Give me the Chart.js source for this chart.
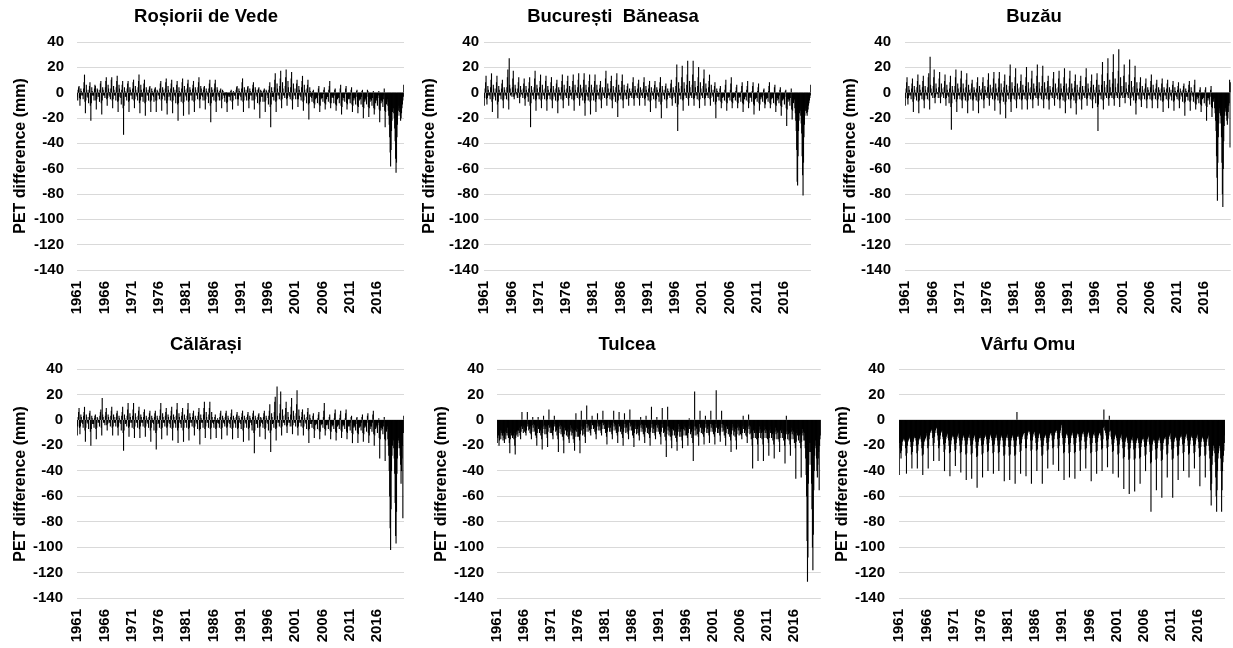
<!DOCTYPE html>
<html><head><meta charset="utf-8">
<script src="https://cdn.jsdelivr.net/npm/chart.js@4"></script>
<style>
html,body{margin:0;padding:0;background:#fff;}
body{width:1233px;height:648px;overflow:hidden;position:relative;}
canvas{position:absolute;}
</style></head><body>
<script>
// ---- DATA (monthly PET difference, mm, Jan 1961 – Dec 2020) ----
const firstYear = 1961, lastYear = 2020;
const xTickLabels = ['1961','1966','1971','1976','1981','1986','1991','1996','2001','2006','2011','2016'];
const yMin = -140, yMax = 40, yStep = 20;
const stationNames = ['Roșiorii de Vede','București  Băneasa','Buzău','Călărași','Tulcea','Vârfu Omu'];

const rosioriiDeVede = [
[-3,-6,2,4,5,-4,-10,-5,3,1,-2,-1],[-2,-5,3,8,14,-7,-16,-6,6,2,-3,-1],[-4,-8,2,5,8,-10,-22,-8,4,1,-2,-2],
[-2,-6,3,6,5,-6,-13,-5,3,2,-3,-1],[-3,-7,2,7,9,-8,-17,-6,4,2,-2,-1],[-2,-4,4,9,12,-5,-10,-4,6,3,-2,0],
[-3,-5,3,10,12,-6,-12,-5,5,2,-2,-1],[-2,-6,4,9,13,-7,-15,-6,6,3,-3,-1],[-4,-9,2,6,9,-12,-33,-10,4,1,-3,-2],
[-3,-6,3,7,9,-7,-15,-6,4,2,-2,-1],[-2,-5,3,8,10,-6,-12,-5,5,2,-2,-1],[-3,-6,4,9,14,-8,-16,-6,6,2,-3,-1],
[-3,-7,3,7,10,-8,-18,-7,4,2,-2,-1],[-2,-6,2,4,5,-7,-15,-6,3,1,-2,-1],[-3,-7,2,3,4,-6,-15,-6,2,1,-2,-1],
[-2,-5,3,7,9,-6,-14,-5,4,2,-2,-1],[-3,-6,3,8,11,-8,-17,-6,5,2,-3,-1],[-2,-6,3,7,10,-7,-16,-6,4,2,-2,-1],
[-3,-8,2,6,9,-9,-22,-8,4,1,-3,-2],[-2,-7,3,8,11,-8,-18,-7,5,2,-2,-1],[-3,-6,3,7,10,-7,-17,-6,4,2,-2,-1],
[-2,-6,3,6,9,-7,-15,-6,4,2,-2,-1],[-2,-5,4,8,12,-6,-12,-5,5,3,-2,-1],[-3,-6,2,4,5,-6,-13,-5,3,1,-2,-1],
[-3,-8,3,7,10,-10,-23,-8,4,2,-3,-2],[-2,-6,3,7,10,-7,-15,-6,4,2,-2,-1],[-3,-6,1,2,3,-6,-12,-5,2,1,-2,-1],
[-4,-7,-1,-2,0,-8,-15,-7,-1,-2,-3,-2],[-3,-6,1,2,-2,-7,-13,-6,1,-1,-2,-2],[-2,-5,2,4,5,-5,-10,-5,3,1,-2,-1],
[-3,-6,3,8,11,-7,-15,-6,4,2,-2,-1],[-3,-6,2,4,5,-6,-12,-5,3,1,-2,-1],[-2,-6,3,6,8,-6,-13,-5,4,2,-2,-1],
[-3,-8,2,3,4,-9,-20,-7,2,1,-3,-2],[-3,-7,1,2,3,-7,-15,-6,2,1,-2,-1],[-4,-9,2,5,8,-11,-27,-9,4,1,-3,-2],
[-3,-6,4,10,15,-7,-15,-6,7,3,-2,-1],[-2,-5,5,11,17,-6,-12,-5,8,3,-2,-1],[-2,-4,5,12,18,-5,-10,-4,9,4,-2,0],
[-3,-5,4,11,16,-6,-13,-5,7,3,-2,-1],[-2,-5,3,7,10,-5,-11,-5,5,2,-2,-1],[-3,-6,4,9,13,-7,-14,-6,6,2,-2,-1],
[-3,-8,3,6,10,-9,-21,-8,4,1,-3,-2],[-4,-7,-2,1,2,-8,-12,-9,-3,-5,-4,-3],[-4,-8,-2,3,5,-9,-15,-10,-3,-5,-4,-3],
[-4,-7,-1,2,4,-8,-13,-9,-2,-5,-3,-3],[-3,-7,2,5,9,-8,-12,-8,-2,-4,-3,-2],[-4,-8,-2,2,3,-9,-14,-10,-3,-5,-4,-3],
[-4,-8,-1,3,6,-10,-17,-11,-3,-6,-4,-3],[-4,-7,-1,3,5,-8,-13,-9,-3,-5,-4,-3],[-5,-8,-2,2,4,-9,-15,-10,-4,-6,-4,-3],
[-5,-9,-3,1,2,-10,-16,-11,-4,-6,-5,-4],[-5,-9,-3,1,2,-11,-20,-12,-5,-7,-5,-4],[-6,-9,-3,2,1,-11,-19,-12,-5,-7,-5,-4],
[-6,-10,-4,-1,1,-12,-17,-13,-5,-8,-6,-4],[-6,-10,-4,-2,1,-13,-23,-14,-6,-8,-6,-5],[-7,-11,-5,-2,3,-14,-27,-15,-7,-9,-7,-5],
[-10,-14,-18,-25,-35,-47,-58,-45,-30,-22,-15,-12],[-12,-16,-20,-28,-38,-52,-63,-55,-35,-25,-18,-14],[-10,-12,-15,-18,-22,-20,-16,-12,-9,-6,-3,6]
].flat();

const bucurestiBaneasa = [
[-10,-4,3,8,13,-5,-9,-4,5,2,-2,-1],[-2,-5,4,10,15,-7,-15,-5,6,3,-2,-1],[-3,-6,3,8,13,-9,-20,-7,5,2,-2,-1],
[-2,-5,3,7,10,-6,-12,-5,4,2,-2,-1],[-2,-5,4,12,18,-6,-13,27,6,3,-2,-1],[-1,-3,4,11,17,-3,-5,-2,6,3,-1,0],
[-2,-4,3,8,12,-4,-8,-3,5,2,-1,-1],[-2,-4,3,7,11,-5,-10,-4,5,2,-2,-1],[-3,-7,3,8,12,-10,-27,-8,5,2,-2,-1],
[-2,-5,4,11,17,-6,-14,-5,6,3,-2,-1],[-2,-5,4,9,14,-6,-12,-5,6,2,-2,-1],[-2,-5,3,9,13,-6,-14,-5,5,2,-2,-1],
[-2,-5,3,8,12,-6,-12,-5,5,2,-2,-1],[-3,-6,3,7,10,-7,-16,-6,4,2,-2,-1],[-2,-5,4,9,14,-6,-12,-5,6,2,-2,-1],
[-2,-4,3,9,13,-5,-10,-4,5,2,-2,-1],[-2,-5,4,9,14,-6,-14,-5,6,2,-2,-1],[-2,-4,4,10,15,-5,-10,-4,6,3,-2,-1],
[-3,-6,4,10,15,-8,-18,-6,6,2,-2,-1],[-3,-6,4,9,14,-7,-17,-6,6,2,-2,-1],[-2,-6,4,9,14,-7,-15,-5,6,2,-2,-1],
[-2,-5,3,6,9,-6,-12,-5,4,2,-2,-1],[-2,-4,4,11,17,-5,-10,-4,7,3,-2,-1],[-2,-5,3,9,13,-6,-12,-5,5,2,-2,-1],
[-3,-7,4,10,15,-8,-19,-6,6,2,-2,-1],[-2,-5,4,9,14,-6,-12,-5,6,2,-2,-1],[-2,-5,2,5,7,-5,-10,-4,3,1,-2,-1],
[-2,-4,3,8,12,-5,-10,-4,5,2,-2,-1],[-2,-4,3,7,10,-5,-10,-4,4,2,-2,-1],[-2,-4,3,8,12,-5,-10,-4,5,2,-2,-1],
[-3,-6,3,6,9,-7,-15,-6,4,1,-2,-1],[-2,-5,3,6,9,-6,-12,-5,4,2,-2,-1],[-3,-7,3,8,12,-9,-20,-7,5,2,-2,-1],
[-2,-5,2,5,7,-6,-12,-5,3,1,-2,-1],[-2,-4,3,7,10,-5,-10,-4,4,2,-2,-1],[-3,-8,5,12,22,-11,-30,-9,8,3,-2,-1],
[-2,-5,5,12,21,-6,-14,-5,8,3,-2,-1],[-2,-4,6,14,25,-5,-10,-4,9,4,-2,0],[-2,-4,6,14,25,-5,-10,-4,9,4,-2,0],
[-2,-5,5,12,20,-6,-12,-5,8,3,-2,-1],[-2,-4,5,11,18,-5,-10,-4,7,3,-2,-1],[-2,-4,4,9,14,-5,-10,-4,6,2,-2,-1],
[-3,-7,2,5,8,-9,-20,-7,3,1,-3,-2],[-3,-6,-1,3,5,-7,-12,-8,-2,-4,-3,-2],[-3,-6,2,6,10,-7,-14,-8,-2,-4,-3,-2],
[-3,-6,2,7,12,-7,-12,-8,-1,-4,-3,-2],[-3,-6,1,4,6,-7,-12,-8,-2,-4,-3,-2],[-3,-7,1,5,8,-8,-15,-9,-2,-5,-3,-2],
[-3,-6,2,5,9,-7,-12,-8,-2,-4,-3,-2],[-4,-7,1,5,8,-9,-17,-10,-3,-5,-4,-3],[-4,-7,1,4,7,-8,-14,-9,-3,-5,-3,-3],
[-4,-7,-2,2,3,-8,-12,-9,-3,-5,-4,-3],[-4,-7,1,5,8,-8,-12,-9,-3,-5,-4,-3],[-4,-8,-1,4,6,-9,-15,-10,-4,-6,-4,-3],
[-5,-8,-2,2,4,-10,-18,-11,-4,-6,-5,-4],[-5,-9,-3,1,2,-12,-26,-13,-5,-7,-5,-4],[-6,-10,-4,-1,3,-13,-21,-14,-6,-8,-6,-5],
[-12,-16,-22,-30,-45,-70,-73,-50,-30,-22,-16,-12],[-14,-18,-24,-32,-50,-65,-81,-55,-35,-25,-18,-14],[-12,-14,-16,-18,-15,-13,-10,-8,-6,-4,-2,6]
].flat();

const buzau = [
[-10,-4,3,8,12,-5,-9,-4,5,2,-2,-1],[-2,-5,3,7,11,-7,-15,-5,5,2,-2,-1],[-3,-6,4,9,14,-7,-16,-6,6,2,-2,-1],
[-2,-5,4,9,13,-6,-12,-5,5,2,-2,-1],[-2,-5,4,12,15,-6,-13,28,6,3,-2,-1],[-1,-4,5,12,18,-4,-8,-3,7,3,-1,0],
[-1,-4,4,11,16,-4,-8,-3,7,3,-1,0],[-2,-4,4,9,14,-5,-10,-4,6,2,-2,-1],[-3,-8,3,8,13,-11,-29,-8,5,2,-2,-1],
[-2,-5,5,12,18,-7,-15,-5,7,3,-2,-1],[-2,-5,4,11,17,-6,-12,-5,7,3,-2,-1],[-3,-6,4,10,15,-7,-16,-6,6,2,-2,-1],
[-2,-5,3,7,10,-6,-14,-5,4,2,-2,-1],[-3,-6,3,8,12,-7,-16,-6,5,2,-2,-1],[-2,-5,3,8,12,-6,-12,-5,5,2,-2,-1],
[-2,-4,4,10,15,-5,-10,-4,6,3,-2,-1],[-2,-5,4,11,16,-6,-14,-5,7,3,-2,-1],[-3,-6,4,11,16,-8,-17,-6,7,2,-2,-1],
[-3,-7,4,9,14,-9,-20,-7,6,2,-2,-1],[-2,-5,5,13,22,-7,-15,-5,8,3,-2,-1],[-2,-5,5,12,19,-6,-12,-5,7,3,-2,-1],
[-2,-5,4,9,14,-6,-13,-5,6,2,-2,-1],[-2,-5,5,12,20,-6,-13,-5,8,3,-2,-1],[-2,-5,4,11,17,-6,-12,-5,7,3,-2,-1],
[-2,-4,5,13,22,-5,-10,-4,8,3,-2,-1],[-2,-5,5,13,21,-6,-12,-5,8,3,-2,-1],[-2,-5,4,9,13,-6,-13,-5,5,2,-2,-1],
[-2,-4,4,11,16,-5,-10,-4,7,3,-2,-1],[-2,-5,4,11,17,-6,-12,-5,7,3,-2,-1],[-3,-6,5,12,19,-7,-16,-6,7,3,-2,-1],
[-2,-5,4,11,17,-6,-12,-5,7,3,-2,-1],[-3,-6,4,9,14,-8,-17,-6,6,2,-2,-1],[-2,-5,4,9,13,-6,-13,-5,5,2,-2,-1],
[-2,-4,5,12,19,-5,-10,-4,7,3,-2,-1],[-2,-5,4,9,14,-6,-12,-5,6,2,-2,-1],[-3,-8,4,10,15,-11,-30,-9,6,2,-2,-1],
[-2,-5,6,14,24,-6,-13,-5,9,4,-2,-1],[-2,-4,6,15,27,-5,-10,-4,10,4,-2,0],[-2,-4,7,16,30,-5,-10,-4,11,4,-2,0],
[-2,-4,7,17,34,-5,-11,-4,12,5,-2,0],[-1,-4,5,13,22,-4,-8,-3,8,3,-1,0],[-2,-4,6,14,26,-5,-10,-4,9,4,-2,0],
[-3,-6,5,12,21,-8,-17,-6,8,3,-2,-1],[-2,-5,3,8,12,-6,-11,-5,5,2,-2,-1],[-2,-5,3,7,11,-6,-12,-5,4,2,-2,-1],
[-2,-5,4,9,14,-6,-12,-5,6,2,-2,-1],[-2,-5,3,7,10,-6,-12,-5,4,2,-2,-1],[-3,-6,3,7,11,-7,-15,-6,4,2,-2,-1],
[-2,-5,3,7,10,-6,-12,-5,4,2,-2,-1],[-3,-6,2,6,9,-7,-14,-6,4,1,-2,-1],[-3,-5,2,5,8,-6,-12,-5,3,1,-2,-1],
[-3,-7,2,5,7,-8,-18,-7,3,1,-3,-2],[-3,-6,2,6,9,-7,-14,-6,4,1,-2,-1],[-3,-7,-2,6,10,-8,-13,-9,-3,-5,-3,-2],
[-4,-8,-2,2,4,-9,-15,-10,-3,-5,-4,-3],[-4,-8,-2,2,4,-10,-22,-11,-4,-6,-4,-3],[-5,-9,-3,2,5,-11,-19,-12,-5,-7,-5,-4],
[-12,-16,-22,-30,-50,-67,-85,-55,-35,-24,-16,-12],[-14,-18,-24,-35,-55,-80,-90,-60,-38,-26,-18,-14],[-12,-15,-18,-22,-25,-20,-15,-10,-8,10,-43,8]
].flat();

const calarasi = [
[-12,-5,2,6,9,-6,-11,-5,4,2,-2,-1],[-3,-6,3,6,10,-8,-17,-6,4,2,-2,-1],[-3,-7,2,5,7,-9,-20,-7,3,1,-3,-2],
[-3,-6,1,3,4,-7,-15,-6,2,1,-2,-1],[-2,-5,3,6,8,-6,-12,17,4,2,-2,-1],[-2,-4,3,6,9,-4,-8,-3,4,2,-2,-1],
[-2,-5,3,7,10,-6,-12,-5,4,2,-2,-1],[-2,-5,2,5,7,-6,-12,-5,3,1,-2,-1],[-3,-8,3,6,10,-10,-24,-8,4,1,-3,-2],
[-2,-5,3,8,13,-6,-13,-5,5,2,-2,-1],[-2,-6,3,8,13,-7,-14,-5,5,2,-2,-1],[-2,-6,3,7,10,-7,-14,-5,4,2,-2,-1],
[-2,-5,2,6,8,-6,-13,-5,3,1,-2,-1],[-3,-6,2,5,7,-8,-17,-6,3,1,-2,-1],[-3,-8,2,5,7,-10,-23,-8,3,1,-3,-2],
[-2,-6,3,8,13,-7,-15,-6,5,2,-2,-1],[-2,-5,3,6,9,-6,-12,-5,4,2,-2,-1],[-3,-6,3,7,10,-7,-16,-6,4,2,-2,-1],
[-3,-6,3,8,13,-8,-18,-6,5,2,-2,-1],[-3,-6,3,6,9,-8,-17,-6,4,1,-2,-1],[-2,-6,3,8,13,-7,-16,-6,5,2,-2,-1],
[-2,-5,2,5,7,-6,-12,-5,3,1,-2,-1],[-3,-7,3,6,9,-8,-19,-7,4,1,-2,-1],[-2,-6,4,9,14,-7,-14,-5,6,2,-2,-1],
[-2,-6,4,9,14,-7,-15,-6,6,2,-2,-1],[-3,-6,-1,2,4,-7,-14,-6,-2,1,-2,-2],[-3,-6,2,5,7,-7,-15,-6,3,1,-2,-1],
[-3,-5,2,5,7,-6,-12,-5,3,1,-2,-1],[-3,-6,2,5,8,-7,-15,-6,3,1,-2,-1],[-3,-6,2,4,6,-7,-14,-6,3,1,-2,-1],
[-3,-7,2,5,7,-8,-17,-6,3,1,-2,-1],[-3,-6,2,4,6,-7,-16,-6,3,1,-2,-1],[-4,-8,2,5,7,-10,-26,-8,3,1,-3,-2],
[-3,-6,2,4,5,-6,-13,-5,2,1,-2,-1],[-3,-6,2,5,7,-7,-15,-6,3,1,-2,-1],[-3,-8,3,7,12,-10,-25,-8,5,2,-3,-2],
[-2,-6,6,14,18,-7,-16,-6,26,3,-2,-1],[-2,-5,5,12,22,-6,-12,-5,8,3,-2,-1],[-2,-4,4,9,14,-5,-10,-4,6,2,-2,-1],
[-2,-5,4,10,17,-5,-11,-4,7,3,-2,-1],[-2,-5,5,12,23,-6,-12,-5,8,3,-2,-1],[-2,-5,2,6,8,-6,-12,-5,4,1,-2,-1],
[-3,-7,2,6,9,-8,-18,-7,4,1,-3,-2],[-3,-6,-1,3,5,-7,-14,-8,-2,-4,-3,-2],[-3,-7,1,4,6,-8,-15,-9,-2,-4,-3,-2],
[-3,-6,2,7,13,-7,-12,-8,-1,-4,-3,-2],[-4,-7,-1,2,4,-8,-15,-9,-3,-5,-4,-3],[-4,-7,1,5,8,-9,-16,-10,-3,-5,-4,-3],
[-4,-7,1,4,7,-8,-14,-9,-3,-5,-4,-3],[-4,-7,1,5,8,-9,-15,-10,-3,-5,-4,-3],[-5,-8,-2,2,3,-10,-18,-11,-4,-6,-5,-4],
[-5,-8,-3,1,2,-10,-18,-11,-4,-6,-5,-4],[-5,-8,-2,2,4,-10,-17,-11,-4,-6,-5,-4],[-5,-9,-2,3,5,-10,-18,-12,-4,-7,-5,-4],
[-5,-9,-2,4,7,-11,-20,-12,-5,-7,-5,-4],[-6,-10,-4,-2,1,-14,-30,-15,-6,-8,-6,-5],[-7,-11,-5,-2,2,-15,-32,-16,-7,-9,-7,-5],
[-15,-20,-28,-40,-60,-85,-102,-70,-40,-28,-20,-15],[-16,-22,-30,-42,-65,-91,-97,-72,-42,-30,-22,-16],[-14,-18,-22,-28,-35,-50,-40,-30,-20,-77,-10,3]
].flat();

const tulcea = [
[-18,-14,-10,-12,-20,-16,-12,-8,-15,-10,-8,-12],[-12,-16,-10,-14,-18,-12,-9,-15,-8,-10,-12,-6],[-10,-14,-12,-18,-26,-15,-10,-8,-12,-9,-14,-7],
[-12,-15,-10,-20,-27,-14,-12,-9,-11,-8,-13,-8],[-8,-10,-6,-12,-15,-9,-5,6,-7,-4,-10,-5],[-6,-9,-4,-10,-12,-8,-3,6,-5,-3,-8,-4],
[-7,-10,-5,-11,-15,-9,-4,2,-6,-3,-9,-4],[-8,-12,-6,-14,-20,-10,-5,2,-7,-4,-10,-5],[-8,-12,-6,-15,-23,-10,-5,3,-7,-4,-11,-5],
[-7,-11,-5,-14,-21,-9,-4,8,-6,-3,-10,-5],[-6,-10,-4,-12,-15,-8,-3,3,-5,-3,-9,-4],[-8,-12,-6,-15,-25,-10,-5,-2,-7,-4,-11,-5],
[-9,-13,-7,-16,-26,-11,-6,-2,-8,-5,-12,-6],[-9,-13,-7,-15,-18,-12,-8,-4,-9,-6,-12,-7],[-10,-15,-8,-18,-24,-13,-8,5,-9,-6,-13,-7],
[-9,-13,-7,-16,-26,-11,-5,7,-8,-5,-12,-6],[-7,-11,-5,-13,-18,-9,-3,11,-6,-3,-9,-4],[-5,-8,-3,-10,-12,-7,-2,3,-4,-2,-7,-3],
[-6,-9,-4,-11,-15,-8,-2,5,-5,-3,-8,-4],[-5,-8,-3,-10,-12,-7,-2,7,-4,-2,-7,-3],[-7,-10,-5,-13,-19,-9,-4,-1,-6,-3,-9,-4],
[-6,-9,-4,-11,-15,-8,-2,7,-5,-3,-8,-4],[-7,-10,-5,-12,-18,-9,-3,6,-5,-3,-9,-4],[-7,-11,-5,-14,-20,-9,-3,5,-6,-3,-10,-5],
[-6,-9,-4,-11,-15,-8,-2,8,-5,-3,-8,-4],[-8,-12,-6,-14,-21,-10,-5,-1,-7,-4,-11,-5],[-7,-10,-5,-12,-16,-9,-4,2,-6,-3,-9,-4],
[-7,-11,-5,-13,-18,-9,-4,3,-6,-3,-10,-5],[-7,-11,-5,-14,-20,-9,-3,10,-6,-3,-10,-5],[-7,-10,-5,-12,-15,-9,-4,2,-6,-3,-9,-4],
[-7,-11,-5,-13,-19,-9,-3,9,-6,-3,-10,-5],[-9,-13,-7,-16,-29,-11,-5,10,-8,-5,-12,-6],[-9,-13,-7,-16,-22,-12,-7,-3,-8,-5,-12,-6],
[-9,-14,-8,-17,-24,-12,-7,-3,-9,-5,-13,-7],[-9,-13,-7,-16,-22,-12,-7,-3,-8,-5,-12,-6],[-8,-12,-6,-14,-20,-10,-5,1,-7,-4,-11,-5],
[-9,-14,-7,-18,-32,-12,-5,22,-8,-5,-12,-6],[-7,-11,-5,-13,-20,-9,-3,7,-6,-3,-10,-5],[-7,-11,-5,-13,-19,-9,-3,3,-6,-3,-10,-5],
[-7,-10,-5,-12,-18,-9,-3,7,-6,-3,-9,-4],[-7,-11,-5,-13,-19,-9,-3,23,-6,-3,-10,-5],[-7,-10,-5,-12,-17,-9,-3,7,-6,-3,-9,-4],
[-8,-12,-6,-14,-20,-10,-5,-2,-7,-4,-11,-5],[-9,-13,-7,-16,-25,-11,-6,-3,-8,-5,-12,-6],[-9,-13,-7,-16,-23,-11,-6,-3,-8,-5,-12,-6],
[-8,-11,-6,-12,-15,-10,-5,3,-7,-4,-10,-5],[-8,-12,-6,-13,-18,-10,-5,4,-7,-4,-11,-5],[-10,-15,-9,-20,-38,-14,-8,-5,-10,-7,-14,-8],
[-10,-15,-9,-19,-32,-14,-8,-5,-10,-7,-14,-8],[-10,-15,-9,-19,-32,-14,-8,-5,-10,-7,-14,-8],[-10,-15,-9,-18,-28,-14,-8,-5,-10,-7,-14,-8],
[-11,-16,-10,-19,-30,-15,-9,-6,-11,-8,-15,-9],[-10,-15,-9,-17,-25,-14,-8,-5,-10,-7,-14,-8],[-11,-16,-10,-20,-34,-15,-9,3,-11,-8,-15,-9],
[-11,-16,-10,-19,-28,-15,-9,-6,-11,-8,-15,-9],[-12,-18,-11,-22,-46,-17,-10,-7,-12,-9,-16,-10],[-12,-18,-11,-22,-45,-17,-10,-7,-12,-9,-16,-10],
[-16,-22,-30,-43,-60,-95,-127,-108,-50,-35,-25,-18],[-18,-25,-35,-50,-70,-100,-118,-90,-55,-40,-28,-20],[-16,-22,-30,-40,-45,-35,-30,-25,-55,-20,-15,-12]
].flat();

const varfuOmu = [
[-43,-18,-22,-26,-30,-24,-20,-17,-16,-15,-14,-16],[-15,-17,-22,-28,-42,-26,-20,-17,-16,-15,-14,-13],[-15,-17,-21,-27,-38,-25,-20,-17,-15,-14,-13,-12],
[-14,-16,-20,-26,-38,-24,-19,-16,-15,-14,-13,-12],[-15,-17,-22,-28,-43,-27,-20,-17,-16,-15,-14,-13],[-10,-12,-16,-22,-38,-20,-15,-12,-10,-9,-8,-7],
[-8,-10,-14,-20,-32,-18,-13,-10,-8,-7,-6,-6],[-10,-12,-16,-22,-32,-20,-15,-12,-10,-9,-8,-8],[-13,-15,-19,-25,-40,-23,-18,-15,-13,-12,-11,-10],
[-14,-16,-20,-26,-44,-25,-19,-16,-14,-13,-12,-11],[-13,-15,-19,-24,-36,-23,-18,-15,-13,-12,-11,-10],[-14,-16,-20,-26,-41,-25,-19,-16,-14,-13,-12,-11],
[-14,-16,-20,-27,-47,-26,-19,-16,-14,-13,-12,-11],[-14,-16,-20,-27,-46,-26,-19,-16,-14,-13,-12,-11],[-15,-17,-22,-29,-53,-28,-20,-17,-15,-14,-13,-12],
[-14,-16,-20,-27,-45,-26,-19,-16,-14,-13,-12,-11],[-13,-15,-19,-25,-40,-24,-18,-15,-13,-12,-11,-10],[-14,-16,-20,-26,-42,-25,-19,-16,-14,-13,-12,-11],
[-14,-16,-20,-26,-40,-25,-19,-16,-14,-13,-12,-11],[-14,-16,-21,-28,-48,-27,-20,-16,-14,-13,-12,-11],[-14,-16,-21,-28,-47,-27,-20,-16,-14,-13,-12,-11],
[-14,-16,-21,-28,-50,-27,-20,-16,6,-13,-12,-11],[-13,-15,-19,-25,-42,-24,-18,-15,-13,-12,-11,-10],[-8,-10,-15,-22,-44,-22,-15,-12,-10,-9,-8,-8],
[-9,-11,-16,-24,-50,-23,-16,-13,-11,-10,-9,-9],[-12,-14,-18,-24,-40,-23,-17,-14,-12,-11,-10,-10],[-14,-16,-21,-28,-50,-27,-20,-16,-14,-13,-12,-11],
[-12,-14,-18,-24,-38,-23,-17,-14,-12,-11,-10,-10],[-10,-12,-16,-22,-35,-21,-15,-12,-10,-9,-8,-8],[-8,-10,-15,-22,-40,-20,-14,-10,-8,-6,-4,-3],
[-12,-14,-19,-26,-47,-25,-18,-14,-12,-11,-10,-9],[-12,-14,-19,-26,-45,-25,-18,-14,-12,-11,-10,-9],[-12,-14,-19,-26,-46,-25,-18,-14,-12,-11,-10,-9],
[-11,-13,-17,-24,-40,-23,-16,-13,-11,-10,-9,-9],[-11,-13,-17,-23,-38,-22,-16,-13,-11,-10,-9,-9],[-12,-14,-19,-26,-48,-25,-18,-14,-12,-11,-10,-9],
[-12,-14,-18,-25,-42,-24,-17,-14,-12,-11,-10,-9],[-10,-12,-16,-23,-40,-22,-15,-6,8,-5,-8,-8],[-10,-12,-16,-22,-37,-21,-15,-12,3,-9,-8,-8],
[-13,-15,-19,-25,-42,-24,-18,-15,-13,-12,-11,-10],[-14,-16,-20,-27,-45,-26,-19,-16,-14,-13,-12,-11],[-15,-17,-22,-30,-54,-29,-21,-17,-15,-14,-13,-12],
[-16,-18,-23,-31,-58,-30,-22,-18,-16,-15,-14,-13],[-16,-18,-23,-31,-56,-30,-22,-18,-16,-15,-14,-13],[-16,-18,-22,-30,-50,-29,-21,-18,-16,-15,-14,-13],
[-15,-17,-21,-28,-40,-27,-20,-17,-15,-14,-13,-12],[-17,-19,-25,-34,-72,-33,-24,-19,-17,-16,-15,-14],[-16,-18,-23,-31,-55,-30,-22,-18,-16,-15,-14,-13],
[-16,-18,-24,-32,-61,-31,-23,-18,-16,-15,-14,-13],[-13,-15,-20,-27,-45,-26,-19,-15,-13,-12,-11,-10],[-15,-17,-23,-31,-61,-30,-22,-17,-15,-14,-13,-12],
[-14,-16,-21,-28,-47,-27,-20,-16,-14,-13,-12,-11],[-13,-15,-19,-26,-40,-25,-18,-15,-13,-12,-11,-10],[-14,-16,-20,-27,-45,-26,-19,-16,-14,-13,-12,-11],
[-14,-16,-20,-26,-38,-25,-19,-16,-14,-13,-12,-11],[-15,-17,-22,-29,-52,-28,-21,-17,-15,-14,-13,-12],[-15,-17,-21,-28,-45,-27,-20,-17,-15,-14,-13,-12],
[-20,-24,-30,-40,-55,-67,-50,-35,-28,-24,-20,-18],[-22,-26,-33,-45,-60,-72,-55,-40,-30,-26,-22,-20],[-20,-24,-30,-40,-72,-55,-40,-33,-28,-24,-18,-12]
].flat();

const stationSeries = [rosioriiDeVede, bucurestiBaneasa, buzau, calarasi, tulcea, varfuOmu];

// monthly category labels
const monthLabels = [];
for (let y = firstYear; y <= lastYear; y++) for (let m = 1; m <= 12; m++) monthLabels.push(y + '-' + String(m).padStart(2, '0'));

// ---- LAYOUT (page pixels) ----
const panels = [
  {x0:0,   y0:0,   w:411, h:324, L:77,  R:404,  T:42,  B:270, tp:13, ax:25,  ay:156, tx:206,  ty:21.5},
  {x0:411, y0:0,   w:411, h:324, L:484, R:811,  T:42,  B:270, tp:5,  ax:434, ay:156, tx:613,  ty:21.5},
  {x0:822, y0:0,   w:411, h:324, L:905, R:1231, T:42,  B:270, tp:14, ax:855, ay:156, tx:1034, ty:21.5},
  {x0:0,   y0:324, w:411, h:324, L:77,  R:404,  T:369, B:598, tp:14, ax:25,  ay:484, tx:206,  ty:350},
  {x0:411, y0:324, w:412, h:324, L:497, R:823,  T:369, B:598, tp:13, ax:446, ay:484, tx:627,  ty:350},
  {x0:822, y0:324, w:411, h:324, L:899, R:1225, T:369, B:598, tp:14, ax:847, ay:484, tx:1028, ty:350}
];

const FONT = '"Liberation Sans", Arial, sans-serif';

const textPlugin = {
  id: 'panelText',
  afterDraw(chart, args, o) {
    const c = chart.ctx;
    c.save();
    c.fillStyle = '#000';
    c.textAlign = 'center';
    c.textBaseline = 'alphabetic';
    c.font = 'bold 18.5px ' + FONT;
    c.fillText(o.title, o.tx, o.ty);
    c.translate(o.ax, o.ay);
    c.rotate(-Math.PI / 2);
    c.font = 'bold 16px ' + FONT;
    c.fillText('PET difference (mm)', 0, 0);
    c.restore();
  }
};

panels.forEach((p, i) => {
  const cv = document.createElement('canvas');
  cv.width = p.w; cv.height = p.h;
  cv.style.left = p.x0 + 'px'; cv.style.top = p.y0 + 'px';
  cv.style.width = p.w + 'px'; cv.style.height = p.h + 'px';
  document.body.appendChild(cv);
  new Chart(cv.getContext('2d'), {
    type: 'bar',
    data: {
      labels: monthLabels,
      datasets: [{
        data: stationSeries[i],
        backgroundColor: '#000',
        borderWidth: 0,
        barPercentage: 1.0,
        categoryPercentage: 1.0
      }]
    },
    options: {
      responsive: false,
      animation: false,
      devicePixelRatio: 1,
      events: [],
      layout: { padding: { left: 0, top: p.T - p.y0, right: p.x0 + p.w - p.R, bottom: 0 } },
      plugins: {
        legend: { display: false },
        title: { display: false },
        tooltip: { enabled: false },
        panelText: { title: stationNames[i], tx: p.tx - p.x0, ty: p.ty - p.y0, ax: p.ax - p.x0, ay: p.ay - p.y0 }
      },
      scales: {
        x: {
          type: 'category',
          grid: { display: false, drawTicks: false },
          border: { display: false },
          ticks: {
            autoSkip: false, minRotation: 90, maxRotation: 90, padding: 11,
            color: '#000', font: { family: FONT, size: 15, weight: 'bold' },
            callback: (v, idx) => (idx % 60 === 0 ? xTickLabels[idx / 60] : null)
          },
          afterFit: s => { s.height = p.y0 + p.h - p.B; }
        },
        y: {
          min: yMin, max: yMax,
          grid: { color: '#d9d9d9', lineWidth: 1, drawTicks: false },
          border: { display: false },
          ticks: { stepSize: yStep, padding: p.tp, color: '#000', font: { family: FONT, size: 15, weight: 'bold' } },
          afterFit: s => { s.width = p.L - p.x0; }
        }
      }
    },
    plugins: [textPlugin]
  });
});
</script>
</body></html>
